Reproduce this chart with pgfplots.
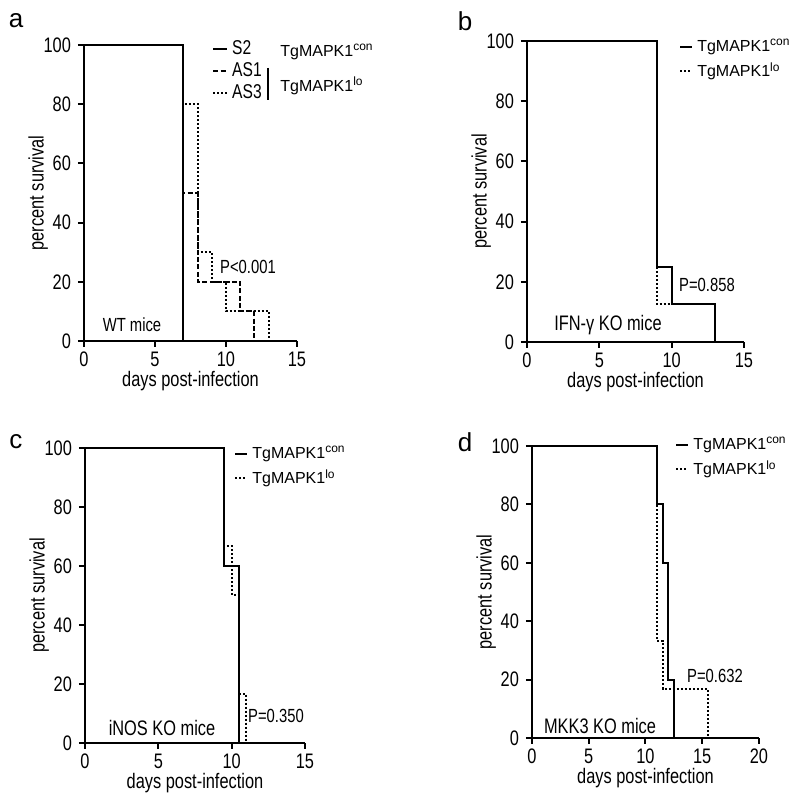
\documentclass[border=0pt]{standalone}
\usepackage{fontspec}
\setmainfont{Liberation Sans}[FakeStretch=0.78]
\newfontfamily\nf{Liberation Sans}
\usepackage{pgfplots}
\pgfplotsset{compat=1.18}
\tikzset{dots/.style={black, dash pattern=on 1pt off 1pt}, dsh/.style={black, dash pattern=on 2.5pt off 1.2pt}, sol/.style={black, solid}}
\pgfplotsset{km/.style={
  scale only axis, axis lines=left, axis line style={-, line width=1pt},
  every tick/.style={line width=1pt, black}, tick align=outside, major tick length=3pt,
  ymin=0, ymax=100, ytick={0,20,...,100}, xmin=0,
  /pgf/number format/assume math mode=true,
  tick label style={font=\fontsize{10.5}{12}\selectfont},
  xticklabel style={yshift=1pt},
  label style={font=\fontsize{10.5}{12}\selectfont},
  xlabel={days post-infection}, ylabel={percent survival},
  xlabel shift=-4.5pt, ylabel shift=-9pt,
  clip=false, reverse legend,
  legend cell align=left,
  legend style={draw=none, fill=none, inner sep=0pt, font=\nf\fontsize{8}{11.5}\selectfont},
  legend image code/.code={\draw[##1] (0pt,0pt) -- (6pt,0pt);},
  every axis plot/.append style={const plot, mark=none, line width=1pt},
}}
\begin{document}
\begin{tikzpicture}
\useasboundingbox (0pt,0pt) rectangle (400pt,-397.5pt);
% ---- panel a
\begin{axis}[km, at={(42pt,-170.5pt)}, anchor=south west, width=106.5pt, height=148pt,
  xmax=15, xtick={0,5,10,15},
  legend style={at={(0.6,1.03)}, anchor=north west, row sep=-1.5pt, font=\fontsize{10}{10}\selectfont},
  legend image code/.code={\draw[#1] (0pt,0pt) -- (7pt,0pt);}]
\addplot[dots] coordinates {(0,100)(7,80)(8,30)(9,20)(10,10)(13,0)}; \addlegendentry{AS3}
\addplot[dsh] coordinates {(0,100)(7,50)(8,20)(11,10)(12,0)}; \addlegendentry{AS1}
\addplot[sol] coordinates {(0,100)(7,0)}; \addlegendentry{S2}
\end{axis}
\node[anchor=west, font=\nf\fontsize{8}{9}\selectfont, inner sep=0pt] at (140pt,-26pt) {TgMAPK1\textsuperscript{con}};
\node[anchor=west, font=\nf\fontsize{8}{9}\selectfont, inner sep=0pt] at (140pt,-43pt) {TgMAPK1\textsuperscript{lo}};
\draw[line width=0.8pt] (134pt,-34pt) -- (134pt,-50pt);
\node[font=\fontsize{9.5}{10}\selectfont] at (124pt,-133.5pt) {P<0.001};
\node[font=\fontsize{9.5}{10}\selectfont] at (66pt,-162.5pt) {WT mice};
% ---- panel b
\begin{axis}[km, at={(263.5pt,-171pt)}, anchor=south west, width=108.5pt, height=150.5pt,
  xmax=15, xtick={0,5,10,15},
  legend style={at={(0.70,1.02)}, anchor=north west}]
\addplot[dots] coordinates {(0,100)(9,12.5)(13,0)}; \addlegendentry{TgMAPK1\textsuperscript{lo}}
\addplot[sol] coordinates {(0,100)(9,25)(10,12.5)(13,0)}; \addlegendentry{TgMAPK1\textsuperscript{con}}
\end{axis}
\node[font=\fontsize{9.5}{10}\selectfont] at (353.5pt,-142.5pt) {P=0.858};
\node[font=\fontsize{10.5}{11}\selectfont] at (304pt,-162.5pt) {IFN-γ KO mice};
% ---- panel c
\begin{axis}[km, at={(42.5pt,-371.5pt)}, anchor=south west, width=110pt, height=147.5pt,
  xmax=15, xtick={0,5,10,15},
  legend style={at={(0.677,1.02)}, anchor=north west}]
\addplot[dots] coordinates {(0,100)(9.5,66.7)(10,50)(10.5,16.7)(11,0)}; \addlegendentry{TgMAPK1\textsuperscript{lo}}
\addplot[sol] coordinates {(0,100)(9.5,60)(10.5,0)}; \addlegendentry{TgMAPK1\textsuperscript{con}}
\end{axis}
\node[font=\fontsize{9.5}{10}\selectfont] at (138pt,-358pt) {P=0.350};
\node[font=\fontsize{10.5}{11}\selectfont] at (81pt,-364pt) {iNOS KO mice};
% ---- panel d
\begin{axis}[km, at={(266pt,-369pt)}, anchor=south west, width=113.5pt, height=146pt,
  xmax=20, xtick={0,5,10,15,20},
  legend style={at={(0.63,1.045)}, anchor=north west}]
\addplot[dots] coordinates {(0,100)(11,33.3)(11.5,16.7)(15.5,0)}; \addlegendentry{TgMAPK1\textsuperscript{lo}}
\addplot[sol] coordinates {(0,100)(11,80)(11.5,60)(12,20)(12.5,0)}; \addlegendentry{TgMAPK1\textsuperscript{con}}
\end{axis}
\node[font=\fontsize{9.5}{10}\selectfont] at (357.5pt,-338pt) {P=0.632};
\node[font=\fontsize{10.5}{11}\selectfont] at (300pt,-363pt) {MKK3 KO mice};
% ---- panel letters
\node[font=\nf\fontsize{13}{14}\selectfont] at (8pt,-10.5pt) {a};
\node[font=\nf\fontsize{13}{14}\selectfont] at (232.5pt,-10.5pt) {b};
\node[font=\nf\fontsize{13}{14}\selectfont] at (8pt,-221pt) {c};
\node[font=\nf\fontsize{13}{14}\selectfont] at (232.5pt,-221pt) {d};
\end{tikzpicture}
\end{document}
